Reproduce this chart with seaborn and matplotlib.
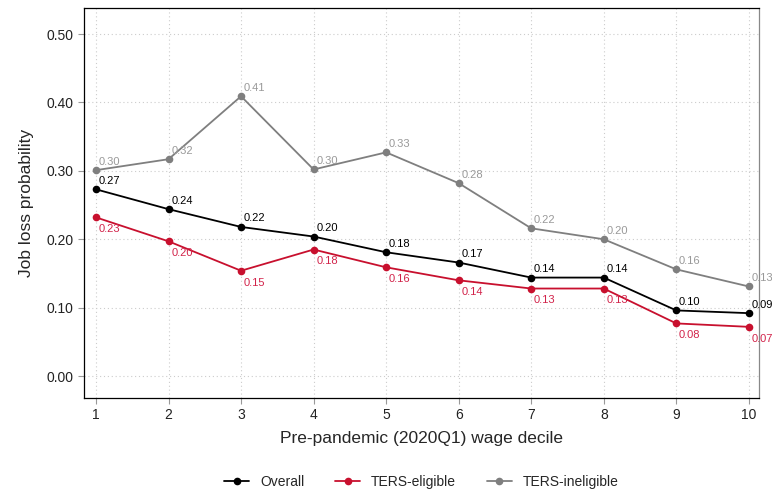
import matplotlib
matplotlib.use("Agg")
import matplotlib.pyplot as plt
import seaborn as sns
import pandas as pd

deciles = list(range(1, 11))
overall = [0.273, 0.244, 0.218, 0.204, 0.181, 0.166, 0.144, 0.144, 0.096, 0.092]
eligible = [0.232, 0.197, 0.154, 0.185, 0.159, 0.140, 0.128, 0.128, 0.077, 0.072]
ineligible = [0.301, 0.317, 0.409, 0.302, 0.327, 0.282, 0.216, 0.200, 0.156, 0.131]
groups = ["Overall", "TERS-eligible", "TERS-ineligible"]
yticks = [0.0, 0.1, 0.2, 0.3, 0.4, 0.5]

sns.set_style("white")
plt.rcParams["font.family"] = ["Liberation Sans", "DejaVu Sans"]

palette = {"Overall": "#000000", "TERS-eligible": "#C8102E", "TERS-ineligible": "#7F7F7F"}
label_colors = {"Overall": "#000000", "TERS-eligible": "#D2234A", "TERS-ineligible": "#999999"}

df = pd.DataFrame({
    "decile": deciles * 3,
    "prob": overall + eligible + ineligible,
    "group": [g for g in groups for _ in deciles],
})

fig = plt.figure(figsize=(7.72, 4.91), dpi=100)
ax = fig.add_axes([84 / 772, 1 - 398 / 491, (759 - 84) / 772, (398 - 8) / 491])

sns.lineplot(data=df, x="decile", y="prob", hue="group", hue_order=groups,
             palette=palette, marker="o", markersize=5.5, markeredgewidth=0,
             linewidth=1.3, ax=ax)

# value labels: above for overall / ineligible, below for eligible
for g in groups:
    sub = df[df.group == g]
    below = g == "TERS-eligible"
    for x, y in zip(sub.decile, sub.prob):
        ax.annotate(f"{y:.2f}", (x, y), xytext=(2, -5 if below else 2.5),
                    textcoords="offset points", fontsize=8,
                    color=label_colors[g], va="top" if below else "bottom",
                    ha="left", annotation_clip=False)

ax.set_xlim(0.835, 10.14)
ax.set_ylim(-0.032, 0.538)
ax.set_xticks(deciles)
ax.set_yticks(yticks)
ax.set_yticklabels([f"{t:.2f}" for t in yticks])
ax.grid(True, color="#cccccc", linestyle=(0, (1, 2.5)), linewidth=0.8)
ax.tick_params(axis="both", labelsize=10, length=4, direction="out",
               left=True, bottom=True, color="#999999", labelcolor="#222222")
for side in ["left", "bottom", "top"]:
    ax.spines[side].set_color("black")
    ax.spines[side].set_linewidth(0.9)
ax.spines["right"].set_color("#888888")
ax.spines["right"].set_linewidth(0.9)

ax.set_xlabel("Pre-pandemic (2020Q1) wage decile", fontsize=12.5, labelpad=6)
ax.set_ylabel("Job loss probability", fontsize=12.5, labelpad=9)

handles, labels = ax.get_legend_handles_labels()
ax.legend(handles, labels, loc="center", bbox_to_anchor=(0.5, -0.215), ncol=3,
          frameon=False, fontsize=10, handlelength=1.8, columnspacing=2.2,
          handletextpad=0.8)

fig.savefig("out.png", dpi=100)
